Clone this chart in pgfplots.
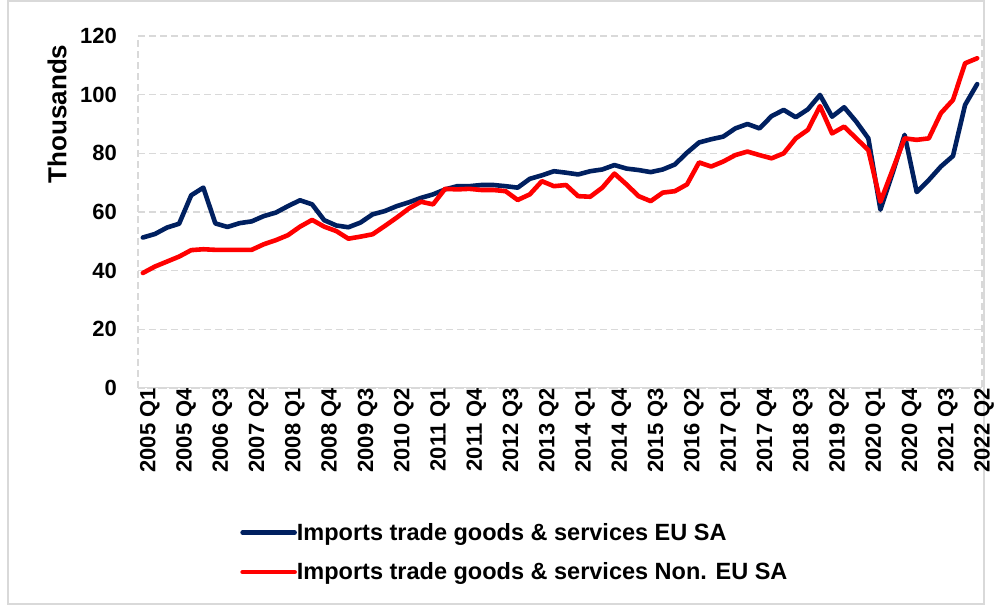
\documentclass[border=0pt]{standalone}
\usepackage{pgfplots}
\pgfplotsset{compat=1.18}
\usepackage{pgfplotstable}
\usepackage{fontspec}
\setmainfont{Liberation Sans}
\definecolor{navy}{HTML}{002060}
\definecolor{redl}{HTML}{FF0000}
\definecolor{gridc}{HTML}{D9D9D9}

\pgfplotstableread{
i eu noneu
0 51.3 39.2
1 52.5 41.4
2 54.7 43.1
3 56.0 44.8
4 65.7 47.0
5 68.3 47.3
6 56.1 47.1
7 54.9 47.1
8 56.2 47.1
9 56.8 47.1
10 58.6 49.0
11 59.8 50.4
12 62.0 52.1
13 64.0 55.0
14 62.6 57.3
15 57.2 55.0
16 55.4 53.5
17 54.8 50.9
18 56.4 51.6
19 59.2 52.4
20 60.3 55.2
21 62.0 58.1
22 63.3 61.2
23 64.8 63.5
24 66.0 62.6
25 67.7 67.9
26 68.8 67.7
27 68.8 67.9
28 69.2 67.5
29 69.2 67.5
30 68.8 67.1
31 68.3 64.1
32 71.3 66.0
33 72.5 70.5
34 73.9 68.8
35 73.4 69.2
36 72.8 65.4
37 73.9 65.2
38 74.5 68.3
39 76.0 73.1
40 74.8 69.4
41 74.3 65.4
42 73.6 63.7
43 74.5 66.6
44 76.2 67.1
45 80.2 69.4
46 83.7 76.9
47 84.8 75.5
48 85.7 77.2
49 88.5 79.4
50 90.0 80.6
51 88.5 79.4
52 92.7 78.3
53 94.8 80.0
54 92.3 85.1
55 95.0 88.0
56 99.9 96.1
57 92.5 86.8
58 95.7 89.1
59 90.8 85.1
60 85.1 81.1
61 60.8 63.5
62 73.2 74.3
63 86.3 85.1
64 66.8 84.6
65 70.9 85.1
66 75.5 93.7
67 79.1 98.2
68 96.5 110.7
69 103.6 112.4
}\data

\begin{document}
\begin{tikzpicture}
\useasboundingbox (0bp,0bp) rectangle (999bp,606bp);
\fill[white] (0bp,0bp) rectangle (999bp,606bp);
\draw[gridc, line width=1.5bp] (8bp,2bp) rectangle (984bp,605bp);
\begin{axis}[
  at={(138bp,218bp)}, anchor=south west,
  scale only axis, width=844bp, height=352bp,
  xmin=-0.4, xmax=69.4, ymin=0, ymax=120,
  ytick={0,20,...,120},
  xtick={0,3,...,69},
  xticklabels={2005 Q1,2005 Q4,2006 Q3,2007 Q2,2008 Q1,2008 Q4,2009 Q3,2010 Q2,2011 Q1,2011 Q4,2012 Q3,2013 Q2,2014 Q1,2014 Q4,2015 Q3,2016 Q2,2017 Q1,2017 Q4,2018 Q3,2019 Q2,2020 Q1,2020 Q4,2021 Q3,2022 Q2},
  ymajorgrids,
  major grid style={gridc, line width=1.6bp, dash pattern=on 7bp off 4bp},
  axis line style={gridc, line width=1.6bp, dash pattern=on 7bp off 4bp},
  major tick length=0pt,
  /pgf/number format/assume math mode=true,
  tick label style={font=\fontsize{22bp}{26bp}\selectfont\bfseries},
  yticklabel style={anchor=east, inner sep=0pt, xshift=-21bp},
  xticklabel style={rotate=90, anchor=east, inner sep=0pt, yshift=-7bp},
  legend style={at={(0.121,-0.384)}, anchor=north west, draw=none, fill=none,
    inner sep=0pt, row sep=21bp, column sep=0bp,
    font=\fontsize{23.5bp}{27bp}\selectfont\bfseries,
    nodes={inner sep=0pt}},
  legend cell align=left,
  legend image code/.code={\draw[#1] (2bp,0bp) -- (54bp,0bp);},
]
\addplot[navy, line width=4.6bp, line join=round, line cap=round] table[x=i, y=eu] {\data};
\addlegendentry{Imports trade goods \& services EU SA}
\addplot[redl, line width=4.6bp, line join=round, line cap=round] table[x=i, y=noneu] {\data};
\addlegendentry{Imports trade goods \& services Non. EU SA}
\draw[gridc, line width=1.6bp] (rel axis cs:0,0) -- (rel axis cs:1,0);
\end{axis}
\node[rotate=90, font=\fontsize{26bp}{30bp}\selectfont\bfseries] at (57bp,492bp) {Thousands};
\end{tikzpicture}
\end{document}
